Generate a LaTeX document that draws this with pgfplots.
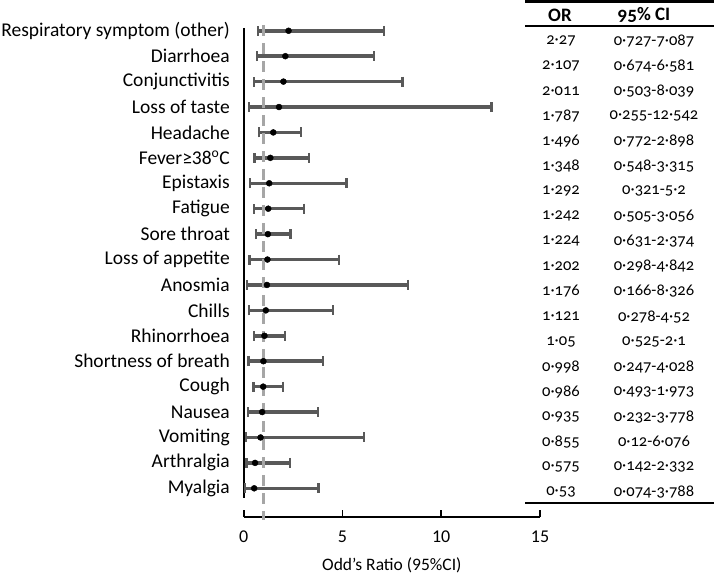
\documentclass[border=0pt]{standalone}
\usepackage{pgfplots}
\usepackage{pgfplotstable}
\pgfplotsset{compat=1.18}
\usepackage{fontspec}
\setmainfont{Carlito}
\newfontfamily\tabfont[Numbers=OldStyle]{Carlito}
\definecolor{bargray}{HTML}{595959}
\definecolor{refgray}{HTML}{A6A6A6}

% OR with 95% CI, y = row (Myalgia at the bottom)
\pgfplotstableread{
y  or     lo     hi
1  0.53   0.074  3.788
2  0.575  0.142  2.332
3  0.855  0.12   6.076
4  0.935  0.232  3.778
5  0.986  0.493  1.973
6  0.998  0.247  4.028
7  1.05   0.525  2.1
8  1.121  0.278  4.52
9  1.176  0.166  8.326
10 1.202  0.298  4.842
11 1.224  0.631  2.374
12 1.242  0.505  3.056
13 1.292  0.321  5.2
14 1.348  0.548  3.315
15 1.496  0.772  2.898
16 1.787  0.255  12.542
17 2.011  0.503  8.039
18 2.107  0.674  6.581
19 2.27   0.727  7.087
}\ordata

\begin{document}
\begin{tikzpicture}
\useasboundingbox (0,0) rectangle (714pt,-576pt);
\begin{axis}[
    scale only axis,
    width=296.3pt, height=517pt,
    at={(243.7pt,-517pt)}, anchor=south west,
    xmin=0, xmax=15, ymin=-0.129, ymax=20.21,
    clip=false,
    axis x line*=bottom, axis y line*=left,
    x axis line style={line width=1.6pt, black, -},
    y axis line style={draw=none},
    xtick={0,5,10,15},
    xtick style={line width=1.6pt, black},
    tick align=inside,
    /pgf/number format/assume math mode=true,
    x tick label style={font=\fontsize{18}{21}\selectfont, yshift=-10pt},
    ytick={1,...,19},
    ytick style={draw=none},
    yticklabels={Myalgia, Arthralgia, Vomiting, Nausea, Cough, Shortness of breath,
        Rhinorrhoea, Chills, Anosmia, Loss of appetite, Sore throat, Fatigue,
        Epistaxis, Fever≥38\textsuperscript{o}C, Headache, Loss of taste,
        Conjunctivitis, Diarrhoea, Respiratory symptom (other)},
    y tick label style={font=\fontsize{19.5}{22}\selectfont, anchor=east, inner sep=0pt, xshift=-13.7pt},
    major tick length=7pt,
    xlabel={Odd’s Ratio (95\%CI)},
    xlabel style={font=\fontsize{17.5}{20}\selectfont, inner sep=0pt, at={(axis description cs:0.5,-0.093)}, anchor=center},
]
% y axis line
\draw[line width=1.6pt, black] (axis cs:0,19.11) -- (axis cs:0,0.618);

% confidence intervals
\addplot[draw=none, mark=none, forget plot,
    error bars/.cd, x dir=both, x explicit, error mark=|,
    error bar style={line width=3.5pt, bargray},
    error mark options={line width=2.2pt, mark size=5pt, bargray}]
    table[x=or, y=y,
          x error plus expr=\thisrow{hi}-\thisrow{or},
          x error minus expr=\thisrow{or}-\thisrow{lo}] {\ordata};

% reference line at OR = 1
\draw[refgray, line width=2.5pt, dash pattern=on 11pt off 7pt] (axis cs:1,19.23) -- (axis cs:1,-0.247);

% odds ratios
\addplot[only marks, mark=*, mark size=3pt, black] table[x=or, y=y] {\ordata};
\end{axis}

% table on the right
\draw[line width=2.6pt] (525pt,-1.3pt) -- (714pt,-1.3pt);
\draw[line width=1.8pt] (525pt,-26pt) -- (714pt,-26pt);
\draw[line width=1.8pt] (525pt,-503pt) -- (714pt,-503pt);
\node[font=\tabfont\bfseries\fontsize{19}{22}\selectfont] at (560pt,-15pt) {OR};
\node[font=\tabfont\bfseries\fontsize{19}{22}\selectfont] at (644pt,-15pt) {95\% CI};
\foreach \o/\c [count=\i from 0] in {2·27/0·727-7·087, 2·107/0·674-6·581, 2·011/0·503-8·039,
    1·787/0·255-12·542, 1·496/0·772-2·898, 1·348/0·548-3·315, 1·292/0·321-5·2,
    1·242/0·505-3·056, 1·224/0·631-2·374, 1·202/0·298-4·842, 1·176/0·166-8·326,
    1·121/0·278-4·52, 1·05/0·525-2·1, 0·998/0·247-4·028, 0·986/0·493-1·973,
    0·935/0·232-3·778, 0·855/0·12-6·076, 0·575/0·142-2·332, 0·53/0·074-3·788} {
  \node[font=\tabfont\fontsize{16.5}{20}\selectfont] at (561pt,{-(40.5+25.1*\i)*1pt}) {\o};
  \node[font=\tabfont\fontsize{16.5}{20}\selectfont] at (654pt,{-(40.5+25.1*\i)*1pt}) {\c};
}
\end{tikzpicture}
\end{document}
